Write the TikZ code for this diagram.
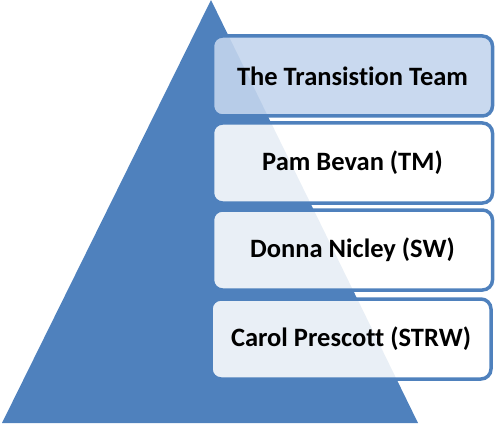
\documentclass[tikz,border=0pt]{standalone}
\usepackage{fontspec}
\setmainfont[Ligatures=CommonOff]{Carlito}
\definecolor{pyrblue}{HTML}{4F81BD}
\definecolor{topfill}{HTML}{C3D5ED}
\begin{document}
\begin{tikzpicture}[x=1pt,y=-1pt,
  listbox/.style={draw=pyrblue,line width=3.5pt,rounded corners=10pt,
    minimum width=280pt,minimum height=80pt,inner sep=0pt,
    font=\fontsize{26.5}{30}\selectfont\bfseries,text=black},
  whitebox/.style={listbox,fill=white,fill opacity=0.88,text opacity=1},
  bluebox/.style={listbox,fill=topfill,fill opacity=0.9,text opacity=1}]
\useasboundingbox (0,0) rectangle (495,425);
\fill[pyrblue] (2,423) -- (211,0) -- (418,423) -- cycle;
\node[bluebox]  (b1) at (352.5,76)  {The Transistion Team};
\node[whitebox] (b2) at (352.5,163) {Pam Bevan (TM)};
\node[whitebox] (b3) at (352.5,250) {Donna Nicley (SW)};
\node[whitebox] (b4) at (351,339)   {Carol Prescott (STRW)};
\end{tikzpicture}
\end{document}
